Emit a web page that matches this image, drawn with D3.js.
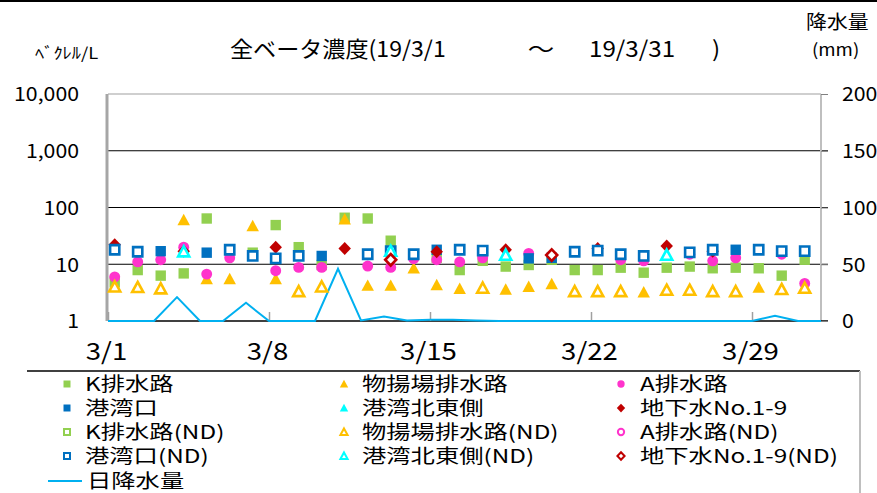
<!DOCTYPE html>
<html><head><meta charset="utf-8">
<script src="https://cdn.jsdelivr.net/npm/d3@7"></script>
<style>
body{margin:0;background:#fff}
svg{display:block}
text{font-family:"Noto Sans CJK JP","Noto Sans",sans-serif;fill:#000}
</style>
</head><body>
<svg id="c" width="877" height="493"></svg>
<script>
// ---------- DATA (index 0 = 3/1 ... index 30 = 3/31) ----------
const dayNumbers = d3.range(1, 32);
const kDrain    = [4.8,7.9,6.3,6.9,64,null,16,49,20,9.7,66,64,26,null,13,7.9,11.5,9.1,9.7,12,7.9,7.9,8.7,7.1,8.7,9.1,8.5,8.7,8.5,6.3,12];
const wharf     = [null,null,null,60,5.5,5.5,47,5.5,null,null,62,4.2,4.2,8.5,4.3,3.7,null,3.6,4.0,4.5,null,null,null,3.2,null,null,null,null,3.9,null,null];
const aDrain    = [6.0,11,12,20,6.7,13,null,7.7,8.8,8.8,null,9.3,8.8,12.5,12,11,13,null,15.5,null,null,null,12,11.5,null,15,11.5,13,null,15,4.6];
const port      = [null,null,17,null,16,null,null,null,null,14,null,null,null,null,18,null,null,null,12.7,13,null,null,null,null,null,null,null,18,null,null,null];
const portNE    = [];
const gw        = [22,null,null,17,null,null,null,20,null,null,19,null,null,null,16.6,null,null,18,null,null,null,19,null,null,21,null,17,null,null,null,null];
const kDrainND  = [];
const wharfND   = [4.0,3.9,3.7,null,null,null,null,null,3.3,4.0,null,null,null,null,null,null,3.8,null,null,null,3.3,3.3,3.3,null,3.5,3.5,3.3,3.3,null,3.6,3.8];
const aDrainND  = [];
const portND    = [18,16.6,null,null,null,18,14,12.7,14,null,null,15,17,15,null,18,17.4,null,null,null,16.6,17.4,15,14,null,16.2,18,null,18,17,17];
const portNEND  = [null,null,null,16.6,null,null,null,null,null,null,null,null,17,null,null,null,null,14.5,null,null,null,null,null,null,14.5,null,null,null,null,null,null];
const gwND      = [null,null,null,null,null,null,null,null,null,null,null,null,12,null,null,null,null,null,null,14.5,null,null,null,null,null,null,null,null,null,null,null];
// daily rainfall (mm), 3/1 ... 4/1
const rainDays  = d3.range(1, 33);
const rain      = [0,0,0,21,0,0,16,0,0,0,46,0.5,4,0.5,1,1,0.5,0,0,0,0,0,0,0,0,0,0,0,0,4.5,0,0];
const leftTicks  = [1,10,100,1000,10000];
const rightTicks = [0,50,100,150,200];
const xTickDays  = [1,8,15,22,29];
const seriesNames = ["K排水路","物揚場排水路","A排水路","港湾口","港湾北東側","地下水No.1-9",
  "K排水路(ND)","物揚場排水路(ND)","A排水路(ND)","港湾口(ND)","港湾北東側(ND)","地下水No.1-9(ND)","日降水量"];

// ---------- STYLE ----------
const series = [
  {data:kDrain,   shape:"square",   color:"#92D050", open:false},
  {data:wharf,    shape:"triangle", color:"#FFC000", open:false},
  {data:aDrain,   shape:"circle",   color:"#FF33CC", open:false},
  {data:port,     shape:"square",   color:"#0070C0", open:false},
  {data:portNE,   shape:"triangle", color:"#00FFFF", open:false},
  {data:gw,       shape:"diamond",  color:"#C00000", open:false},
  {data:kDrainND, shape:"square",   color:"#92D050", open:true},
  {data:wharfND,  shape:"triangle", color:"#FFC000", open:true},
  {data:aDrainND, shape:"circle",   color:"#FF33CC", open:true},
  {data:portND,   shape:"square",   color:"#0070C0", open:true},
  {data:portNEND, shape:"triangle", color:"#00FFFF", open:true},
  {data:gwND,     shape:"diamond",  color:"#C00000", open:true}
];
series.forEach((s,i)=>s.name=seriesNames[i]);

const svg = d3.select("#c");
const X0=108, X1=821, Y0=94, Y1=321;
const day = d => new Date(2019, 2, d);
const x = d3.scaleTime().domain([day(1), day(32)]).range([X0, X1]);
const y = d3.scaleLog().domain([1, 10000]).range([Y1, Y0]);
const y2 = d3.scaleLinear().domain([0, 200]).range([Y1, Y0]);
const sampleHour = 7;

function sText(g, px, py, str, size, anchor, sx){
  return g.append("text")
    .attr("transform", `translate(${px},${py}) scale(${sx},1)`)
    .attr("text-anchor", anchor||"start")
    .attr("font-size", size)
    .text(str);
}
function shapePath(shape, s){
  switch(shape){
    case "square": return `M${-s},${-s}H${s}V${s}H${-s}Z`;
    case "triangle": return `M0,${-s*1.2}L${s*1.2},${s*1.0}L${-s*1.2},${s*1.0}Z`;
    case "diamond": return `M0,${-s*1.25}L${s*1.2},0L0,${s*1.25}L${-s*1.2},0Z`;
    case "circle": return d3.symbol(d3.symbolCircle, Math.PI*s*s*1.1)();
  }
}

// top frame line of picture
svg.append("line").attr("x1",0).attr("x2",877).attr("y1",1).attr("y2",1).attr("stroke","#000").attr("stroke-width",2);

// gridlines
const grid = svg.append("g");
[10,100,1000].forEach(v=>{
  grid.append("line").attr("x1",X0).attr("x2",X1+7).attr("y1",y(v)).attr("y2",y(v)).attr("stroke","#000").attr("stroke-width",1.2);
});
grid.append("line").attr("x1",X0).attr("x2",X1).attr("y1",Y0).attr("y2",Y0).attr("stroke","#A0A0A0").attr("stroke-width",1.2);
grid.append("line").attr("x1",X1).attr("x2",X1).attr("y1",Y0).attr("y2",Y1).attr("stroke","#BFBFBF").attr("stroke-width",2);
grid.append("line").attr("x1",X0).attr("x2",X1+7).attr("y1",Y1).attr("y2",Y1).attr("stroke","#000").attr("stroke-width",1.5);

// left axis
const gl = svg.append("g").attr("transform",`translate(${X0},0)`)
  .call(d3.axisLeft(y).tickValues(leftTicks).tickFormat(d3.format(",")).tickSize(0).tickPadding(29));
gl.select(".domain").remove();
gl.selectAll("text").attr("font-size",19).attr("dy","0.36em").attr("x",0)
  .attr("transform","translate(-29,0) scale(1.12,1)").style("font-family",'"Noto Sans CJK JP",sans-serif');
svg.append("line").attr("x1",X0-1).attr("x2",X0-1).attr("y1",Y0).attr("y2",Y1).attr("stroke","#A6A6A6").attr("stroke-width",3);

// right axis
const gr = svg.append("g").attr("transform",`translate(${X1},0)`)
  .call(d3.axisRight(y2).tickValues(rightTicks).tickSize(7).tickPadding(14));
gr.select(".domain").remove();
gr.selectAll("line").attr("stroke","#808080");
gr.selectAll("text").attr("font-size",19).attr("dy","0.36em").attr("x",0)
  .attr("transform","translate(21,0) scale(1.12,1)").style("font-family",'"Noto Sans CJK JP",sans-serif');

// x axis
const gx = svg.append("g").attr("transform",`translate(0,${Y1})`)
  .call(d3.axisBottom(x).tickValues(xTickDays.map(day)).tickFormat(d3.timeFormat("%-m/%-d")).tickSizeInner(-9).tickSizeOuter(0));
gx.select(".domain").remove();
gx.selectAll("line").attr("stroke","#A0A0A0").attr("stroke-width",1.5);
gx.selectAll("text").attr("font-size",24).attr("y",0).attr("dy",0)
  .attr("transform","translate(-2,39) scale(1.15,1)").style("font-family",'"Noto Sans CJK JP",sans-serif');

// rainfall line
svg.append("path")
  .datum(rain.map((v,i)=>({d:rainDays[i], v})))
  .attr("fill","none").attr("stroke","#00B0F0").attr("stroke-width",2)
  .attr("d", d3.line().x(p=>x(day(p.d))).y(p=>y2(p.v)));

// markers
const mk = svg.append("g");
series.forEach(s=>{
  const pts = s.data.map((v,i)=>({d:dayNumbers[i], v})).filter(p=>p.v!=null);
  mk.append("g").selectAll("path").data(pts).join("path")
    .attr("transform", p=>{
      const t = day(p.d); t.setHours(sampleHour);
      return `translate(${x(t)},${y(p.v)})`;
    })
    .attr("d", shapePath(s.shape, s.open ? 4.6 : 5.2))
    .attr("fill", s.open ? "#fff" : s.color)
    .attr("stroke", s.open ? s.color : "none")
    .attr("stroke-width", s.open ? 2.6 : 0);
});

// titles
sText(svg, 230, 57, "全ベータ濃度(19/3/1", 22, "start", 1.05);
sText(svg, 541, 57, "～", 22, "middle", 1.2);
sText(svg, 589, 57, "19/3/31", 22, "start", 1.1);
sText(svg, 712, 57, ")", 22, "start", 1.1);
sText(svg, 35, 59, "ﾍﾞｸﾚﾙ/L", 16, "start", 1.15);
sText(svg, 806, 29, "降水量", 19, "start", 1.1);
sText(svg, 812, 56, "(mm)", 17, "start", 1.1);

// legend
const lg = svg.append("g");
lg.append("line").attr("x1",27).attr("x2",860).attr("y1",371).attr("y2",371).attr("stroke","#000").attr("stroke-width",1.5);
lg.append("line").attr("x1",860).attr("x2",860).attr("y1",371).attr("y2",493).attr("stroke","#BFBFBF").attr("stroke-width",2);
const colMarkX = [67, 344, 621], colTextX = [85, 362, 640];
const rowY = [384, 408, 432, 456];
series.forEach((s,i)=>{
  const c = i%3, r = Math.floor(i/3);
  lg.append("path")
    .attr("transform",`translate(${colMarkX[c]},${rowY[r]})`)
    .attr("d", shapePath(s.shape, s.open ? 3 : 3.5))
    .attr("fill", s.open ? "#fff" : s.color)
    .attr("stroke", s.open ? s.color : "none")
    .attr("stroke-width", s.open ? 2 : 0);
  sText(lg, colTextX[c], rowY[r]+7, s.name, 19, "start", 1.28);
});
lg.append("line").attr("x1",48).attr("x2",82).attr("y1",481).attr("y2",481).attr("stroke","#00B0F0").attr("stroke-width",2);
sText(lg, 87, 488, seriesNames[12], 19, "start", 1.28);
</script>
</body></html>
